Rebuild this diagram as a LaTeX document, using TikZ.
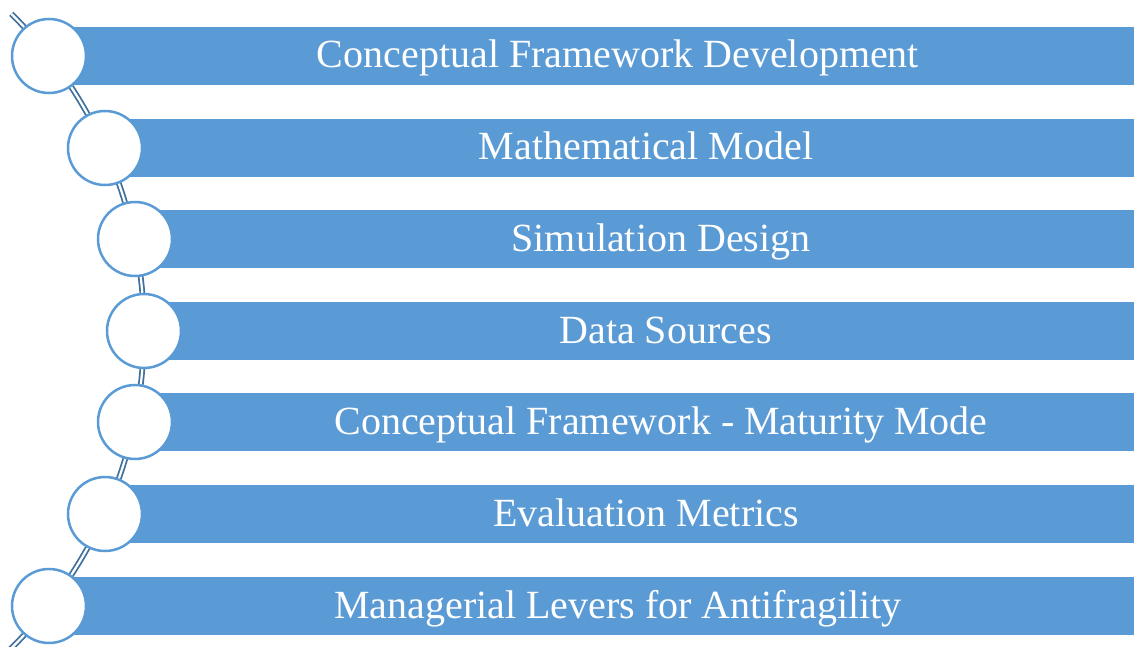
\documentclass[tikz,border=0pt]{standalone}
\usepackage{fontspec}
\setmainfont{Liberation Serif}
\definecolor{barblue}{HTML}{5B9BD5}
\definecolor{linkblue}{HTML}{41719C}
\begin{document}
\begin{tikzpicture}[x=1pt,y=1pt,
  bar/.style={fill=barblue,draw=none},
  bead/.style={circle,draw=barblue,line width=2.5pt,fill=white,minimum size=74pt,inner sep=0pt},
  label/.style={anchor=base,text=white,font=\fontsize{40}{48}\selectfont,inner sep=0pt},
  link/.style={draw=linkblue,line width=1.8pt,double=white,double distance=2.2pt}]
\useasboundingbox (0,0) rectangle (1134,-647);
\clip (0,0) rectangle (1134,-647);
% curved spine behind the beads
\draw[link] (-301.5,-331) ++(45.4:445.5) arc[start angle=45.4,end angle=-46.5,radius=445.5];
% bars, beads and captions, one per row
\foreach \i/\cx/\cy/\t in {
  1/49/56/{Conceptual Framework Development},
  2/105/148/{Mathematical Model},
  3/135/239/{Simulation Design},
  4/144/331/{Data Sources},
  5/135/422/{Conceptual Framework - Maturity Mode},
  6/105/514/{Evaluation Metrics},
  7/49/606/{Managerial Levers for Antifragility}}{
  \fill[bar] (\cx,-\cy+29) rectangle (1134,-\cy-29);
  \node[bead] (b\i) at (\cx,-\cy) {};
  \node[label] (t\i) at ({(\cx+38+1149)/2},-\cy-12) {\t};
}
\end{tikzpicture}
\end{document}
